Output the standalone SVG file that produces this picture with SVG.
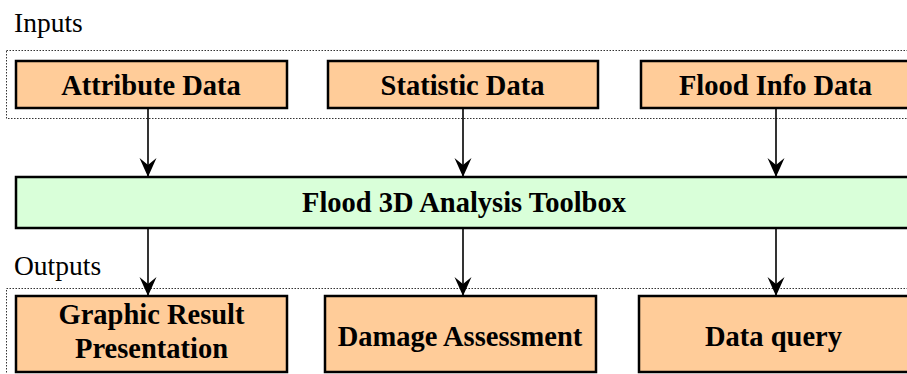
<svg xmlns="http://www.w3.org/2000/svg" width="907" height="374" viewBox="0 0 907 374">
  <defs>
    <!-- concave arrowhead, drawn along +x so orient="auto" points it down the line -->
    <marker id="arrow" markerUnits="userSpaceOnUse" markerWidth="20" markerHeight="18" refX="19" refY="9" orient="auto" viewBox="0 0 20 18">
      <path d="M0,0.5 L19,9 L0,17.5 L7,9 Z" fill="#000"/>
    </marker>
  </defs>
  <style>
    .group-frame { fill: none; stroke: #333; stroke-width: 1; stroke-dasharray: 1.5 1.5; }
    .section { font-family: "Liberation Serif", "Times New Roman", serif; font-size: 27.5px; fill: #000; }
    .box { fill: #FFCC99; stroke: #000; stroke-width: 2.5; }
    .tool { fill: #D9FFD9; stroke: #000; stroke-width: 2.5; }
    .label { font-family: "Liberation Serif", "Times New Roman", serif; font-size: 28.5px; font-weight: bold; fill: #000; text-anchor: middle; }
    .conn { stroke: #000; stroke-width: 1.6; fill: none; marker-end: url(#arrow); }
  </style>

  <rect width="907" height="374" fill="#fff"/>

  <!-- section frames and titles -->
  <text class="section" x="14" y="32">Inputs</text>
  <rect class="group-frame" x="6.5" y="50.5" width="920" height="68"/>
  <text class="section" x="14" y="275">Outputs</text>
  <rect class="group-frame" x="6.5" y="288.5" width="920" height="100"/>

  <!-- input nodes -->
  <g id="attribute-data">
    <rect class="box" x="16" y="61" width="271" height="47"/>
    <text class="label" x="151" y="95">Attribute Data</text>
  </g>
  <g id="statistic-data">
    <rect class="box" x="328" y="61" width="270" height="47"/>
    <text class="label" x="462.5" y="95">Statistic Data</text>
  </g>
  <g id="flood-info-data">
    <rect class="box" x="641" y="61" width="280" height="47"/>
    <text class="label" x="775.5" y="95">Flood Info Data</text>
  </g>

  <!-- central toolbox -->
  <g id="toolbox">
    <rect class="tool" x="16" y="177" width="905" height="51"/>
    <text class="label" x="464" y="212">Flood 3D Analysis Toolbox</text>
  </g>

  <!-- output nodes -->
  <g id="graphic-result">
    <rect class="box" x="16" y="296" width="271" height="76"/>
    <text class="label" x="151.5" y="324">Graphic Result</text>
    <text class="label" x="151.5" y="358">Presentation</text>
  </g>
  <g id="damage-assessment">
    <rect class="box" x="325" y="296" width="271" height="76"/>
    <text class="label" x="460" y="346">Damage Assessment</text>
  </g>
  <g id="data-query">
    <rect class="box" x="639" y="296" width="282" height="76"/>
    <text class="label" x="773.5" y="346">Data query</text>
  </g>

  <!-- connectors -->
  <g id="connectors">
    <line class="conn" x1="148" y1="109" x2="148" y2="177"/>
    <line class="conn" x1="463" y1="109" x2="463" y2="177"/>
    <line class="conn" x1="776" y1="109" x2="776" y2="177"/>
    <line class="conn" x1="148" y1="229" x2="148" y2="296"/>
    <line class="conn" x1="463" y1="229" x2="463" y2="296"/>
    <line class="conn" x1="776" y1="229" x2="776" y2="296"/>
  </g>
</svg>
